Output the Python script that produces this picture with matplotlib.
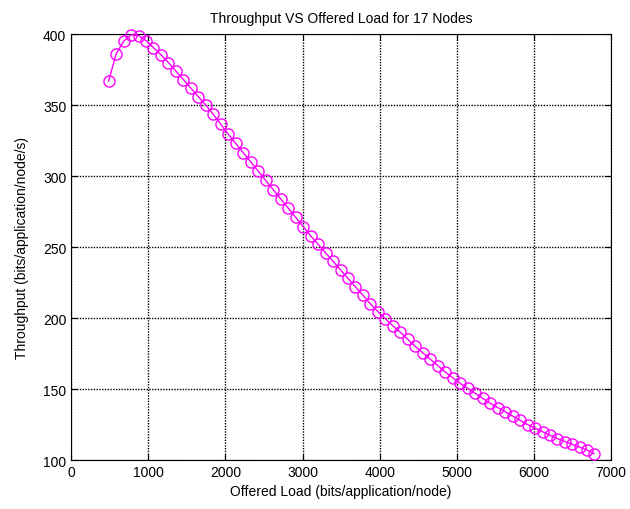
import matplotlib
matplotlib.use('Agg')
import matplotlib.pyplot as plt

# offered load (bits/application/node)
load = [485, 582, 679, 776, 873, 970, 1067, 1164, 1261, 1358, 1455, 1552,
        1649, 1746, 1843, 1940, 2037, 2134, 2231, 2328, 2425, 2522, 2619, 2716,
        2813, 2910, 3007, 3104, 3201, 3298, 3395, 3492, 3589, 3686, 3783, 3880,
        3977, 4074, 4171, 4268, 4365, 4462, 4559, 4656, 4753, 4850, 4947, 5044,
        5141, 5238, 5335, 5432, 5529, 5626, 5723, 5820, 5917, 6014, 6111, 6208,
        6305, 6402, 6499, 6596, 6693, 6778]

# throughput (bits/application/node/s)
throughput = [367, 386, 395, 399.5, 399, 395.5, 390.5, 385.5, 380, 374, 368, 362,
              356, 350, 343.5, 336.5, 329.5, 323, 316.5, 310, 303.5, 297, 290.5, 284,
              277.5, 271, 264.5, 258, 252, 246, 240, 234, 228, 222, 216, 210,
              204.5, 199.5, 194.5, 190, 185, 180, 175.5, 171, 166.5, 162, 158, 154,
              150.5, 147, 143.5, 140, 137, 134, 131, 128, 125, 122.5, 120, 117.5,
              115, 113, 111, 109, 107, 104.5]

xticks = [0, 1000, 2000, 3000, 4000, 5000, 6000, 7000]
yticks = [100, 150, 200, 250, 300, 350, 400]

plt.rcParams['font.family'] = ['Liberation Sans', 'DejaVu Sans']

fig = plt.figure(figsize=(6.3, 5.1), dpi=100)
ax = fig.add_axes([0.113, 0.096, 0.857, 0.835])

ax.plot(load, throughput, color='magenta', linewidth=1, marker='o',
        markersize=8, markerfacecolor='none', markeredgecolor='magenta',
        markeredgewidth=1, clip_on=False, zorder=3)

ax.set_xlim(0, 7000)
ax.set_ylim(100, 400)
ax.set_xticks(xticks)
ax.set_yticks(yticks)
ax.tick_params(direction='in', top=True, right=True, length=4, labelsize=10,
               colors='black')
# dense dotted grid like matlab
ax.grid(True, color='black', linestyle=(0, (1, 1)), linewidth=1)
for s in ax.spines.values():
    s.set_linewidth(0.8)

ax.set_title('Throughput VS Offered Load for 17 Nodes', fontsize=10, pad=9)
ax.set_xlabel('Offered Load (bits/application/node)', fontsize=10, labelpad=4)
ax.set_ylabel('Throughput (bits/application/node/s)', fontsize=10, labelpad=10)

fig.savefig('out.png', dpi=100)
